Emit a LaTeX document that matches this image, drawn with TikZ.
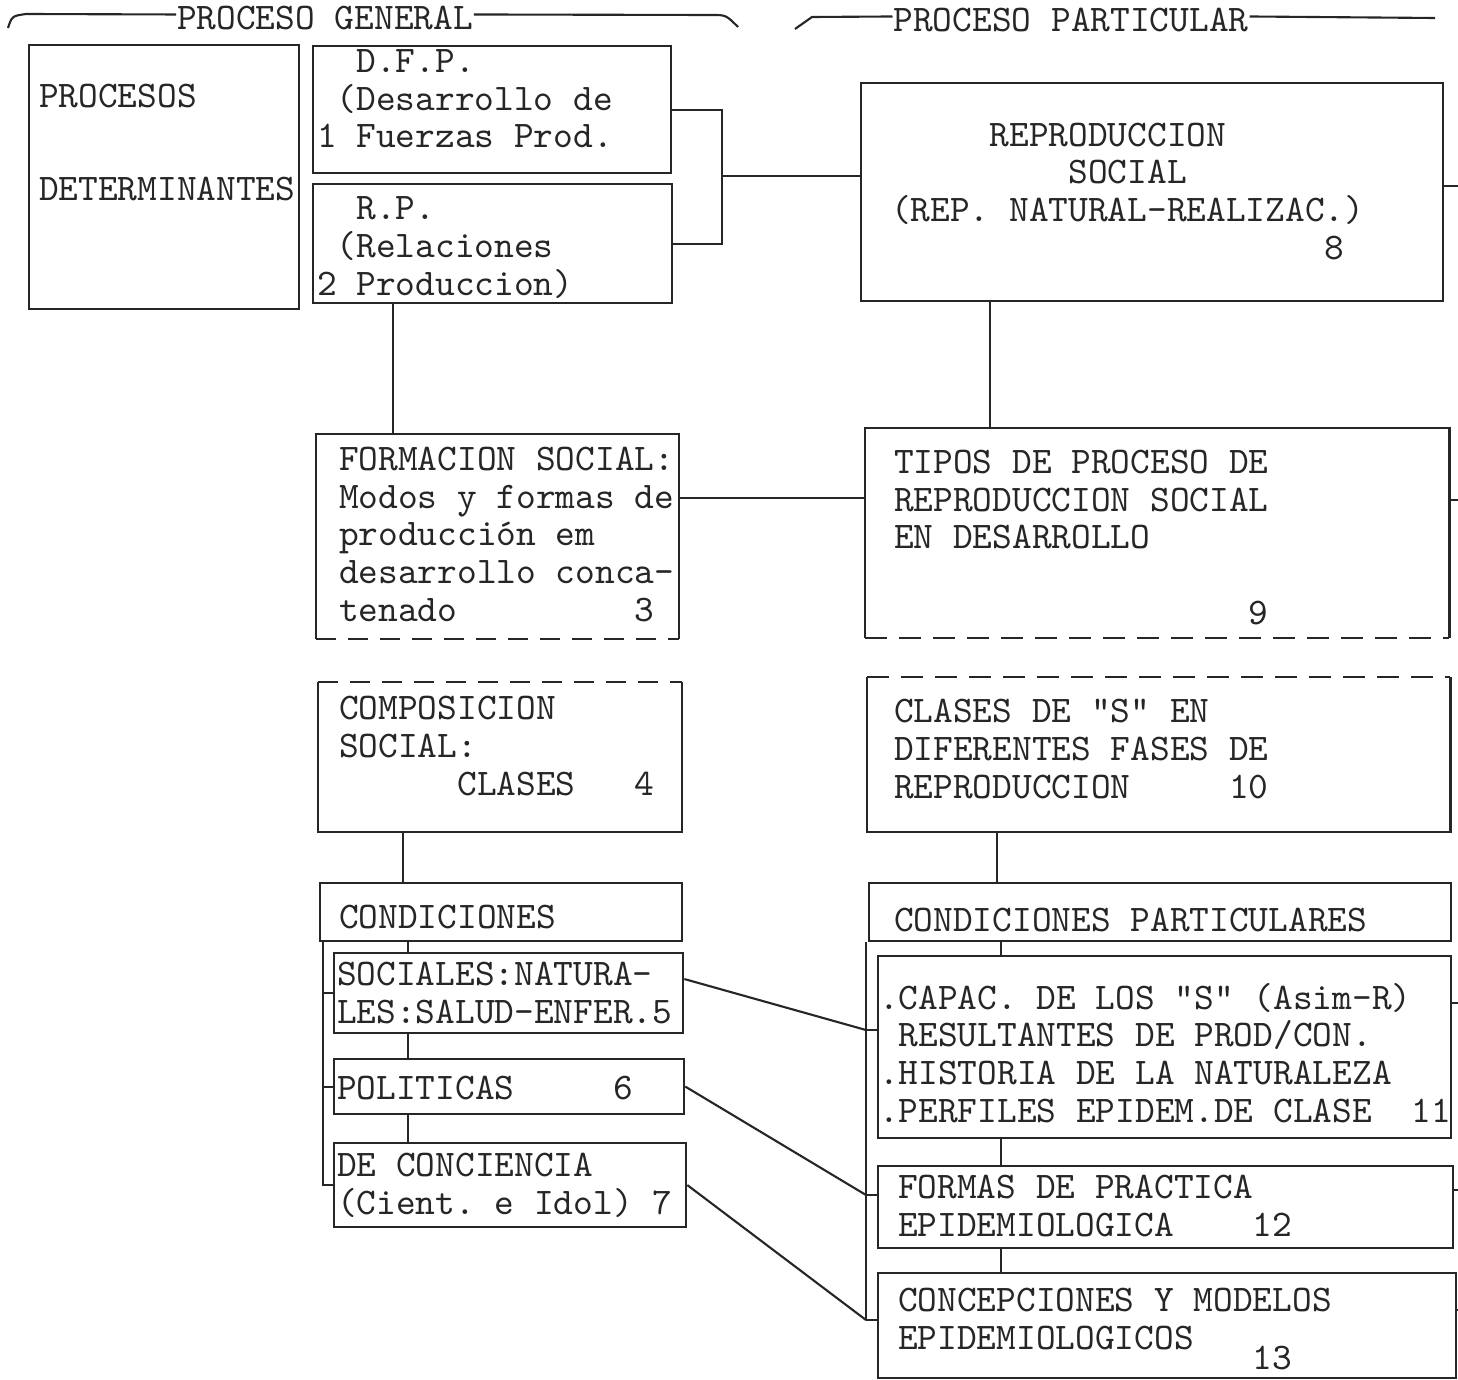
\documentclass[tikz,border=0pt]{standalone}
\usepackage{fontspec}
\setmonofont{Latin Modern Mono}
\frenchspacing
\newcommand\tabgap[1]{\hspace*{#1\dimexpr0.525em\relax}}

\begin{document}
\begin{tikzpicture}[x=0.01cm,y=-0.01cm,line width=0.6pt,color=black!85,
  box/.style={draw,anchor=north west,inner sep=0pt},
  dashbox/.style={anchor=north west,inner sep=0pt},
  txt/.style={anchor=base west,inner sep=0pt,align=left,font=\ttfamily\fontsize{10.68}{10.67}\selectfont},
  head/.style={inner sep=0pt,font=\ttfamily\fontsize{10.68}{10.67}\selectfont}]

\useasboundingbox (0,0) rectangle (1458,1379);

% proceso general
\node at (28,44) [box,minimum width=2.70cm,minimum height=2.64cm] (procesos) {};
\node at (312,45) [box,minimum width=3.58cm,minimum height=1.27cm] (dfp) {};
\node at (312,183) [box,minimum width=3.59cm,minimum height=1.19cm] (rp) {};
\node at (316,434) [dashbox,minimum width=3.61cm,minimum height=2.03cm] (formacion) {};
\node at (318,682) [dashbox,minimum width=3.62cm,minimum height=1.48cm] (composicion) {};
\node at (319,882) [box,minimum width=3.62cm,minimum height=0.58cm] (cond) {};
\node at (333,952) [box,minimum width=3.49cm,minimum height=0.80cm] (sociales) {};
\node at (333,1058) [box,minimum width=3.50cm,minimum height=0.55cm] (politicas) {};
\node at (333,1142) [box,minimum width=3.52cm,minimum height=0.84cm] (conciencia) {};

% proceso particular
\node at (860,82) [box,minimum width=5.82cm,minimum height=2.18cm] (repro) {};
\node at (865,428) [dashbox,minimum width=5.82cm,minimum height=2.08cm] (tipos) {};
\node at (867,677) [dashbox,minimum width=5.81cm,minimum height=1.53cm] (clases) {};
\node at (868,882) [box,minimum width=5.82cm,minimum height=0.58cm] (condpart) {};
\node at (877,955) [box,minimum width=5.73cm,minimum height=1.82cm] (capac) {};
\node at (877,1165) [box,minimum width=5.75cm,minimum height=0.82cm] (formas) {};
\node at (877,1272) [box,minimum width=5.78cm,minimum height=1.05cm] (concep) {};

\draw (formacion.south west) |- (formacion.north east) -- (formacion.south east);
\draw[dash pattern=on 0.2cm off 0.12cm] (formacion.south west) -- (formacion.south east);
\draw (tipos.south west) |- (tipos.north east) -- (tipos.south east);
\draw[dash pattern=on 0.22cm off 0.12cm] (tipos.south west) -- (tipos.south east);
\draw (composicion.north west) |- (composicion.south east) -- (composicion.north east);
\draw[dash pattern=on 0.2cm off 0.12cm] (composicion.north west) -- (composicion.north east);
\draw (clases.north west) |- (clases.south east) -- (clases.north east);
\draw[dash pattern=on 0.22cm off 0.12cm] (clases.north west) -- (clases.north east);

% headings
\node at (325,18) [head] (hgen) {PROCESO GENERAL};
\node at (1071,20) [head] (hpart) {PROCESO PARTICULAR};
\coordinate (g1) at (8,28);
\coordinate (g2) at (738,27);
\coordinate (p1) at (795,29);
\coordinate (p2) at (1435,18);
\draw (g1) .. controls (12,16) .. (26,14) -- ([yshift=1pt]hgen.west);
\draw ([yshift=1pt]hgen.east) -- (712,15) .. controls (726,15) .. (g2);
\draw (p1) -- (812,17) -- ([yshift=1pt]hpart.west);
\draw ([yshift=1pt]hpart.east) -- (p2);

% texts (placed by the baseline of their last line)
\node at (38,201) [txt] (tprocesos) {PROCESOS\\[5.55mm]DETERMINANTES};
\node at (316,148) [txt] (tdfp) {\tabgap{2}D.F.P.\\\tabgap{1}(Desarrollo de\\1 Fuerzas Prod.};
\node at (316,295) [txt] (trp) {\tabgap{2}R.P.\\\tabgap{1}(Relaciones\\2 Produccion)};
\node at (338,621) [txt] (tformacion) {FORMACION SOCIAL:\\Modos y formas de\\producción em\\desarrollo conca-\\tenado\tabgap{9}3};
\node at (338,795) [txt] (tcomposicion) {COMPOSICION\\SOCIAL:\\\tabgap{6}CLASES\tabgap{3}4};
\node at (338,928) [txt] (tcond) {CONDICIONES};
\node at (336,1023) [txt] (tsociales) {SOCIALES:NATURA-\\LES:SALUD-ENFER.5};
\node at (336,1099) [txt] (tpoliticas) {POLITICAS\tabgap{5}6};
\node at (336,1214) [txt] (tconciencia) {DE CONCIENCIA\\(Cient. e Idol) 7};
\node at (890,259) [txt] (trepro) {\tabgap{5}REPRODUCCION\\\tabgap{9}SOCIAL\\(REP. NATURAL-REALIZAC.)\\\tabgap{22}8};
\node at (893,624) [txt] (ttipos) {TIPOS DE PROCESO DE\\REPRODUCCION SOCIAL\\EN DESARROLLO\\[10.67pt]\tabgap{18}9};
\node at (893,798) [txt] (tclases) {CLASES DE \textquotedbl S\textquotedbl{} EN\\DIFERENTES FASES DE\\REPRODUCCION\tabgap{5}10};
\node at (893,931) [txt] (tcondpart) {CONDICIONES PARTICULARES};
\node at (878,1122) [txt] (tcapac) {.CAPAC. DE LOS \textquotedbl S\textquotedbl{} (Asim-R)\\\tabgap{1}RESULTANTES DE PROD/CON.\\.HISTORIA DE LA NATURALEZA\\.PERFILES EPIDEM.DE CLASE\tabgap{2}11};
\node at (897,1236) [txt] (tformas) {FORMAS DE PRACTICA\\EPIDEMIOLOGICA\tabgap{4}12};
\node at (897,1369) [txt] (tconcep) {CONCEPCIONES Y MODELOS\\EPIDEMIOLOGICOS\\[-5.1pt]\tabgap{18}13};

% connectors
\coordinate (jn) at (722,176);
\coordinate (h3) at (0,498);
\coordinate (c1) at (393,0);
\coordinate (c2) at (990,0);
\coordinate (c3) at (403,0);
\coordinate (c4) at (997,0);
\coordinate (c5) at (408,0);
\coordinate (c6) at (1001,0);
\coordinate (bl) at (323,0);
\coordinate (j11) at (866,1030);
\coordinate (j12) at (866,1195);
\coordinate (j13) at (866,1320);
\coordinate (s8) at (1458,186);
\coordinate (s9) at (1458,500);
\coordinate (s11) at (1458,1003);
\coordinate (s12) at (1458,1190);
\coordinate (s13) at (1458,1310);

\draw (dfp.east) -| (jn) |- (rp.east);
\draw (jn) -- (jn -| repro.west);
\draw (rp.south -| c1) -- (formacion.north -| c1);
\draw (repro.south -| c2) -- (tipos.north -| c2);
\draw (h3 -| formacion.east) -- (h3 -| tipos.west);
\draw (composicion.south -| c3) -- (cond.north -| c3);
\draw (clases.south -| c4) -- (condpart.north -| c4);
\draw (cond.south -| c5) -- (sociales.north -| c5);
\draw (sociales.south -| c5) -- (politicas.north -| c5);
\draw (politicas.south -| c5) -- (conciencia.north -| c5);
\draw (condpart.south -| c6) -- (capac.north -| c6);
\draw (capac.south -| c6) -- (formas.north -| c6);
\draw (formas.south -| c6) -- (concep.north -| c6);

\draw (cond.south -| bl) |- (conciencia.west);
\draw (sociales.west -| bl) -- (sociales.west);
\draw (politicas.west -| bl) -- (politicas.west);

\draw (condpart.south -| j11) -- (j13);
\draw (j11) -- (j11 -| capac.west);
\draw (j12) -- (j12 -| formas.west);
\draw (j13) -- (j13 -| concep.west);
\draw ([yshift=4pt]sociales.east) -- (j11);
\draw (politicas.east) -- (j12);
\draw (conciencia.east) -- (j13);

\draw (s8 -| repro.east) -- (s8);
\draw (s9 -| tipos.east) -- (s9);
\draw (s11 -| capac.east) -- (s11);
\draw (s12 -| formas.east) -- (s12);
\draw (s13 -| concep.east) -- (s13);

\end{tikzpicture}
\end{document}
